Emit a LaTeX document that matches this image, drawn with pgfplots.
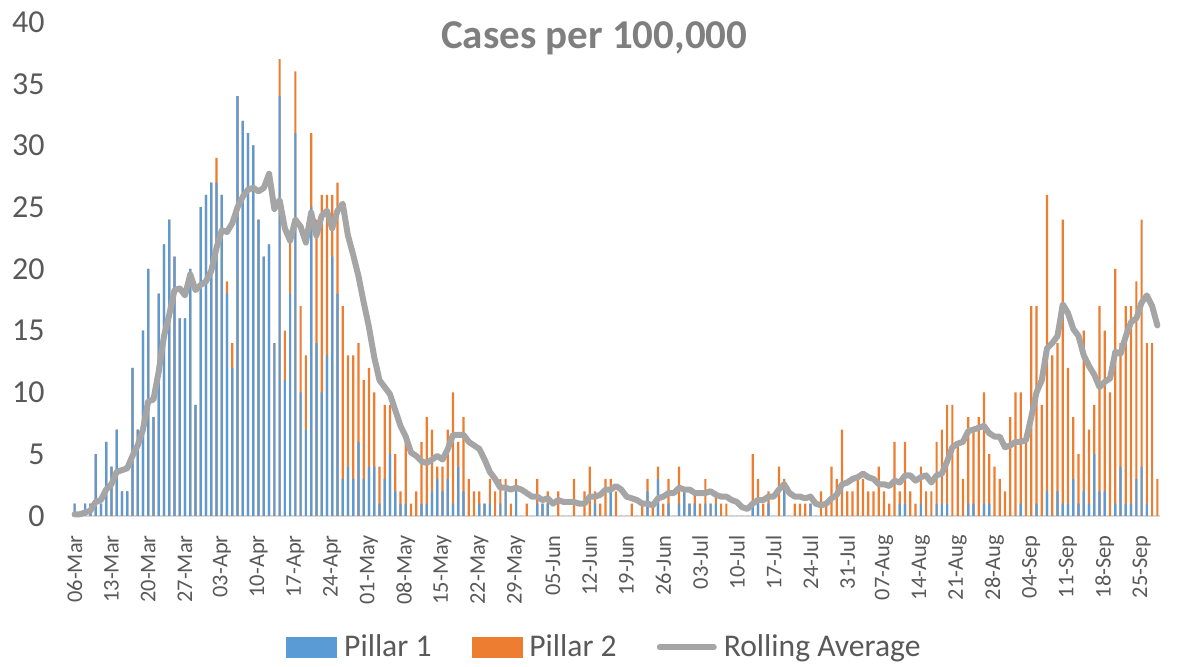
\documentclass[border=0pt]{standalone}
\usepackage{fontspec}
\setmainfont{Carlito}
\usepackage{pgfplots}
\usepackage{pgfplotstable}
\pgfplotsset{compat=1.18}
\definecolor{pone}{HTML}{5B9BD5}
\definecolor{ptwo}{HTML}{ED7D31}
\definecolor{ravg}{HTML}{A5A5A5}
\definecolor{txt}{HTML}{595959}
\definecolor{ttl}{HTML}{7F7F7F}
\definecolor{axl}{HTML}{D9D9D9}
\pgfplotstableread{
d p1 tot ra
0 1 1 0.14
1 0 0 0.14
2 1 1 0.29
3 1 1 0.43
4 5 5 1.14
5 1 1 1.29
6 6 6 2.14
7 4 4 2.57
8 7 7 3.57
9 2 2 3.71
10 2 2 3.86
11 12 12 4.86
12 7 7 5.71
13 15 15 7.00
14 20 20 9.29
15 8 8 9.43
16 18 18 11.71
17 22 22 14.57
18 24 24 16.29
19 21 21 18.29
20 16 16 18.43
21 16 16 17.86
22 20 20 19.57
23 9 9 18.29
24 25 25 18.71
25 26 26 19.00
26 27 27 19.86
27 27 29 21.71
28 26 26 23.14
29 18 19 23.00
30 12 14 23.71
31 34 34 25.00
32 32 32 25.86
33 31 31 26.43
34 30 30 26.57
35 24 24 26.29
36 21 21 26.57
37 22 22 27.71
38 14 14 24.86
39 34 37 25.57
40 11 15 23.29
41 18 23 22.29
42 31 36 24.00
43 10 17 23.43
44 7 13 22.14
45 25 31 24.57
46 14 24 22.71
47 10 26 24.29
48 13 26 24.71
49 21 26 23.29
50 18 27 24.71
51 3 17 25.29
52 4 13 22.71
53 3 13 21.14
54 6 14 19.43
55 3 11 17.29
56 4 12 15.29
57 4 10 12.86
58 1 4 11.00
59 3 9 10.43
60 5 9 9.86
61 2 5 8.57
62 1 2 7.29
63 1 6 6.43
64 0 1 5.14
65 0 2 4.86
66 1 6 4.43
67 1 8 4.29
68 2 7 4.57
69 3 4 4.86
70 2 4 4.57
71 3 7 5.43
72 1 10 6.57
73 4 6 6.57
74 2 8 6.57
75 0 3 6.00
76 0 2 5.71
77 1 2 5.43
78 1 1 4.57
79 1 3 3.57
80 0 2 3.00
81 1 3 2.29
82 2 3 2.29
83 0 1 2.14
84 2 3 2.29
85 0 0 2.14
86 0 1 1.86
87 0 0 1.57
88 1 3 1.57
89 1 1 1.29
90 1 2 1.43
91 0 0 1.00
92 0 2 1.29
93 0 0 1.14
94 0 0 1.14
95 0 3 1.14
96 0 0 1.00
97 0 2 1.00
98 0 4 1.57
99 1 2 1.57
100 0 1 1.71
101 0 3 2.14
102 2 3 2.14
103 0 2 2.43
104 0 0 2.14
105 0 0 1.57
106 0 1 1.43
107 0 0 1.29
108 0 1 1.00
109 2 3 1.00
110 0 1 0.86
111 3 4 1.43
112 0 1 1.57
113 1 3 1.86
114 0 0 1.86
115 1 4 2.29
116 2 2 2.14
117 1 1 2.14
118 1 2 1.86
119 0 1 1.86
120 1 3 1.86
121 1 1 2.00
122 1 2 1.71
123 0 1 1.57
124 0 1 1.57
125 0 0 1.29
126 0 0 1.14
127 0 0 0.71
128 0 0 0.57
129 1 5 1.00
130 1 3 1.29
131 0 1 1.29
132 1 2 1.57
133 0 0 1.57
134 0 4 2.14
135 2 3 2.57
136 0 0 1.86
137 0 1 1.57
138 0 1 1.57
139 0 1 1.43
140 1 1 1.57
141 0 0 1.00
142 0 2 0.86
143 0 1 1.00
144 0 4 1.43
145 0 3 1.71
146 0 7 2.57
147 0 2 2.71
148 0 2 3.00
149 0 3 3.14
150 0 3 3.43
151 0 2 3.14
152 0 2 3.00
153 0 4 2.57
154 0 2 2.57
155 0 1 2.43
156 0 6 2.86
157 1 2 2.71
158 1 6 3.29
159 0 2 3.29
160 0 1 2.86
161 1 4 3.14
162 0 2 3.29
163 0 2 2.71
164 1 6 3.29
165 1 7 3.43
166 1 9 4.43
167 0 9 5.57
168 0 6 5.86
169 0 3 6.00
170 1 8 6.86
171 1 7 7.00
172 0 8 7.14
173 1 10 7.29
174 1 5 6.71
175 0 4 6.43
176 0 3 6.43
177 0 2 5.57
178 0 8 5.71
179 0 10 6.00
180 1 10 6.00
181 0 6 6.14
182 0 17 8.00
183 1 17 10.00
184 0 9 11.00
185 2 26 13.57
186 0 13 14.00
187 2 14 14.57
188 1 24 17.14
189 1 12 16.43
190 3 8 15.14
191 1 5 14.57
192 2 15 13.00
193 1 7 12.14
194 5 9 11.43
195 2 17 10.43
196 2 15 10.86
197 0 10 11.14
198 1 20 13.29
199 4 14 13.14
200 1 17 14.57
201 1 17 15.71
202 3 19 16.00
203 4 24 17.29
204 1 14 17.86
205 0 14 17.00
206 0 3 15.43
}\data

\begin{document}
\begin{tikzpicture}
\useasboundingbox (0,0) rectangle (589pt,333.5pt);
\begin{axis}[
  at={(36pt,75.5pt)}, anchor=south west,
  scale only axis, width=544pt, height=247pt,
  xmin=-0.5, xmax=206.5, ymin=0, ymax=40,
  clip=false,
  axis x line*=bottom, axis y line*=left,
  x axis line style={draw=axl, line width=1pt, -},
  y axis line style={draw=none},
  major tick length=0pt,
  ytick={0,5,...,40},
  xtick={0,7,...,203},
  xticklabels={06-Mar,13-Mar,20-Mar,27-Mar,03-Apr,10-Apr,17-Apr,24-Apr,01-May,08-May,15-May,22-May,29-May,05-Jun,12-Jun,19-Jun,26-Jun,03-Jul,10-Jul,17-Jul,24-Jul,31-Jul,07-Aug,14-Aug,21-Aug,28-Aug,04-Sep,11-Sep,18-Sep,25-Sep},
  tick label style={text=txt},
  yticklabel style={font=\fontsize{16}{19}\selectfont, anchor=east, inner sep=0pt, xshift=-13.5pt},
  xticklabel style={font=\fontsize{11.2}{13}\selectfont, inner sep=0pt, yshift=-9.5pt, rotate=90, anchor=east},
  /pgf/number format/assume math mode=true,
  legend columns=3,
  legend style={at={(0.4885,-0.266)}, anchor=center, draw=none, fill=none, inner sep=0pt,
    font=\fontsize{15.8}{18}\selectfont, text=txt, nodes={inner sep=0pt},
    /tikz/every odd column/.append style={column sep=3.5pt},
    /tikz/every even column/.append style={column sep=20pt}},
  legend entries={Pillar 1, Pillar 2, Rolling Average},
]
\addlegendimage{legend image code/.code={\fill[pone] (0pt,-5pt) rectangle (25pt,5pt);}}
\addlegendimage{legend image code/.code={\fill[ptwo] (0pt,-5pt) rectangle (25pt,5pt);}}
\addlegendimage{legend image code/.code={\draw[ravg, line width=3pt, line cap=round] (0pt,0pt) -- (27pt,0pt);}}
\addplot[ybar, bar width=0.42, bar shift=0pt, fill=ptwo, draw=none, forget plot] table[x=d, y=tot] {\data};
\addplot[ybar, bar width=0.42, bar shift=0pt, fill=pone, draw=none, forget plot] table[x=d, y=p1] {\data};
\addplot[ravg, line width=3pt, line join=round, line cap=round, forget plot] table[x=d, y=ra] {\data};
\node[font=\fontsize{20.5}{23}\selectfont\bfseries, text=ttl, anchor=base] at (rel axis cs:0.480,0.947) {Cases per 100,000};
\end{axis}
\end{tikzpicture}
\end{document}
